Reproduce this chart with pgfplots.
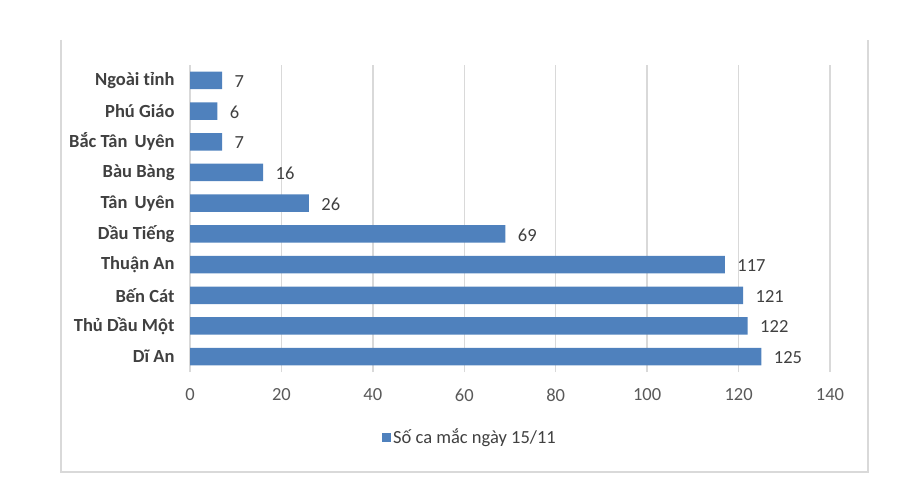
\documentclass[border=0pt]{standalone}
\usepackage{fontspec}
\setmainfont{Carlito}
\usepackage{pgfplots}
\pgfplotsset{compat=1.18}
\definecolor{barblue}{HTML}{4F81BD}
\definecolor{gridgray}{HTML}{D9D9D9}
\definecolor{labgray}{HTML}{404040}
\definecolor{tickgray}{HTML}{595959}
\begin{document}
\begin{tikzpicture}[x=1bp,y=1bp]
\path[use as bounding box] (0,0) rectangle (918,-498);
% chart area frame (no top edge)
\draw[gridgray, line width=1.5bp] (61,-40) -- (61,-472) -- (868,-472) -- (868,-40);
\begin{axis}[
    at={(190bp,-372bp)}, anchor=south west,
    scale only axis,
    width=640bp, height=307bp,
    xbar,
    bar width=17.5bp,
    xmin=0, xmax=140,
    ymin=-0.5, ymax=9.5,
    xtick={0,20,...,140},
    ytick={0,...,9},
    yticklabels={Dĩ An, Thủ Dầu Một, Bến Cát, Thuận An, Dầu Tiếng, Tân\hspace{3bp} Uyên, Bàu Bàng, Bắc Tân\hspace{3bp} Uyên, Phú Giáo, Ngoài tỉnh},
    axis line style={draw=none},
    major tick length=0pt,
    xmajorgrids,
    grid style={gridgray, line width=1.5bp},
    /pgf/number format/assume math mode=true,
    tick label style={font=\fontsize{18.5bp}{21bp}\selectfont},
    x tick label style={text=tickgray, yshift=-13bp},
    y tick label style={text=labgray, font=\fontsize{18.5bp}{21bp}\selectfont\bfseries, xshift=-12bp},
    nodes near coords,
    every node near coord/.append style={font=\fontsize{18.5bp}{21bp}\selectfont, text=labgray, xshift=9bp, yshift=-1bp},
    legend style={at={(0.4375,-0.212)}, anchor=center, draw=none,
        font=\fontsize{18.5bp}{21bp}\selectfont, text=labgray,
        inner sep=0pt},
    legend image code/.code={\fill[barblue] (0bp,-4.5bp) rectangle (9bp,4.5bp);},
]
\addplot[fill=barblue, draw=none] coordinates {
    (125,0) (122,1) (121,2) (117,3) (69,4) (26,5) (16,6) (7,7) (6,8) (7,9)
};
\legend{Số ca mắc ngày 15/11}
\end{axis}
\end{tikzpicture}
\end{document}
